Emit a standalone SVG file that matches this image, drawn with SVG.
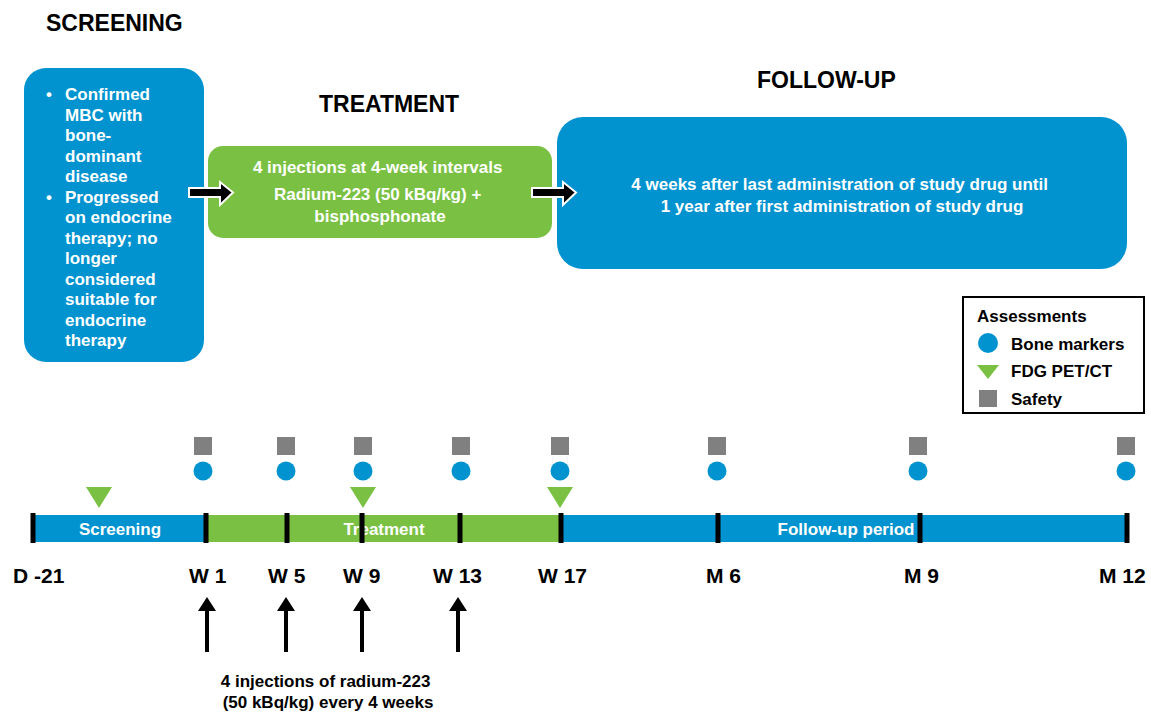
<svg xmlns="http://www.w3.org/2000/svg" width="1151" height="714" viewBox="0 0 1151 714">
<style>
text{font-family:"Liberation Sans",Arial,sans-serif;font-weight:bold}
.title{font-size:23px;fill:#000}
.box{font-size:17px;fill:#fff}
.lab{font-size:21px;fill:#000}
.bar{font-size:17px;fill:#fff;text-anchor:middle}
.leg{font-size:17px;fill:#000}
.blue{fill:#0093d0}
.green{fill:#7ac143}
.gray{fill:#808080}
.tick{fill:#000}
.blk{fill:#000;stroke:#fff;stroke-width:2}
</style>
<defs>
<rect id="sq" x="-9" y="-9" width="18" height="18" class="gray"/>
<circle id="ci" r="9.5" class="blue"/>
<polygon id="tr" points="-13,0 13,0 0,21" class="green"/>
<rect id="tk" x="-2.5" y="0" width="5" height="30" class="tick"/>
<path id="up" d="M-2,55 V14 H-9 L0,0 L9,14 H2 V55 Z" fill="#000"/>
</defs>

<g id="titles">
<text class="title" x="46" y="31">SCREENING</text>
<text class="title" x="319" y="112">TREATMENT</text>
<text class="title" x="757" y="88">FOLLOW-UP</text>
</g>

<g id="screening-box">
<rect x="24" y="68" width="180" height="294" rx="22" class="blue"/>
<text class="box">
<tspan x="46" y="100">•</tspan><tspan x="65" y="100">Confirmed</tspan>
<tspan x="65" y="120.5">MBC with</tspan>
<tspan x="65" y="141">bone-</tspan>
<tspan x="65" y="161.5">dominant</tspan>
<tspan x="65" y="182">disease</tspan>
<tspan x="46" y="202.5">•</tspan><tspan x="65" y="202.5">Progressed</tspan>
<tspan x="65" y="223">on endocrine</tspan>
<tspan x="65" y="243.5">therapy; no</tspan>
<tspan x="65" y="264">longer</tspan>
<tspan x="65" y="284.5">considered</tspan>
<tspan x="65" y="305">suitable for</tspan>
<tspan x="65" y="325.5">endocrine</tspan>
<tspan x="65" y="346">therapy</tspan>
</text>
</g>

<g id="treatment-box">
<rect x="208" y="146" width="344" height="92" rx="15" class="green"/>
<text class="box" text-anchor="middle">
<tspan x="380" y="173">4 injections at 4-week intervals</tspan>
<tspan x="380" y="200">Radium-223 (50 kBq/kg) +</tspan>
<tspan x="380" y="222">bisphosphonate</tspan>
</text>
</g>

<g id="followup-box">
<rect x="557" y="117" width="570" height="152" rx="26" class="blue"/>
<text class="box" text-anchor="middle">
<tspan x="842" y="190">4 weeks after last administration of study drug until</tspan>
<tspan x="842" y="212">1 year after first administration of study drug</tspan>
</text>
</g>

<g id="connectors">
<path class="blk" d="M189,188 H220 V182 L233,192.5 L220,205 V197 H189 Z"/>
<path class="blk" d="M532,188 H563 V182 L576,192.5 L563,205 V197 H532 Z"/>
<use href="#up" x="207" y="597"/>
<use href="#up" x="286" y="597"/>
<use href="#up" x="362" y="597"/>
<use href="#up" x="458" y="597"/>
</g>

<g id="legend">
<rect x="963" y="297" width="181" height="116" fill="#fff" stroke="#000" stroke-width="2"/>
<text class="leg" x="977" y="322">Assessments</text>
<circle cx="988" cy="343" r="10" class="blue"/>
<text class="leg" x="1011" y="350">Bone markers</text>
<polygon points="977,365 999,365 988,379" class="green"/>
<text class="leg" x="1011" y="377">FDG PET/CT</text>
<rect x="979" y="390" width="18" height="17" class="gray"/>
<text class="leg" x="1011" y="405">Safety</text>
</g>

<g id="timeline">
<rect x="32" y="515" width="174" height="27" class="blue"/>
<rect x="206" y="515" width="355" height="27" class="green"/>
<rect x="561" y="515" width="567" height="27" class="blue"/>
<text class="bar" x="120" y="535">Screening</text>
<text class="bar" x="384" y="535">Treatment</text>
<text class="bar" x="846" y="535">Follow-up period</text>
<use href="#tk" x="33" y="513"/>
<use href="#tk" x="206" y="513"/>
<use href="#tk" x="287" y="513"/>
<use href="#tk" x="362" y="513"/>
<use href="#tk" x="460" y="513"/>
<use href="#tk" x="561" y="513"/>
<use href="#tk" x="718" y="513"/>
<use href="#tk" x="920" y="513"/>
<use href="#tk" x="1127" y="513"/>
</g>

<g id="markers">
<use href="#sq" x="203" y="446"/><use href="#ci" x="203" y="471"/>
<use href="#sq" x="286" y="446"/><use href="#ci" x="286" y="471"/>
<use href="#sq" x="363" y="446"/><use href="#ci" x="363" y="471"/>
<use href="#sq" x="461" y="446"/><use href="#ci" x="461" y="471"/>
<use href="#sq" x="560" y="446"/><use href="#ci" x="560" y="471"/>
<use href="#sq" x="717" y="446"/><use href="#ci" x="717" y="471"/>
<use href="#sq" x="918" y="446"/><use href="#ci" x="918" y="471"/>
<use href="#sq" x="1126" y="446"/><use href="#ci" x="1126" y="471"/>
<use href="#tr" x="99" y="487"/>
<use href="#tr" x="363" y="487"/>
<use href="#tr" x="560" y="487"/>
</g>

<g id="labels">
<text class="lab" x="13" y="583">D -21</text>
<text class="lab" x="189" y="583">W 1</text>
<text class="lab" x="268" y="583">W 5</text>
<text class="lab" x="343" y="583">W 9</text>
<text class="lab" x="433" y="583">W 13</text>
<text class="lab" x="538" y="583">W 17</text>
<text class="lab" x="706" y="583">M 6</text>
<text class="lab" x="904" y="583">M 9</text>
<text class="lab" x="1099" y="583">M 12</text>
<text class="leg" text-anchor="middle">
<tspan x="328" y="687">4 injections of radium-223</tspan>
<tspan x="328" y="708">(50 kBq/kg) every 4 weeks</tspan>
</text>
</g>
</svg>
